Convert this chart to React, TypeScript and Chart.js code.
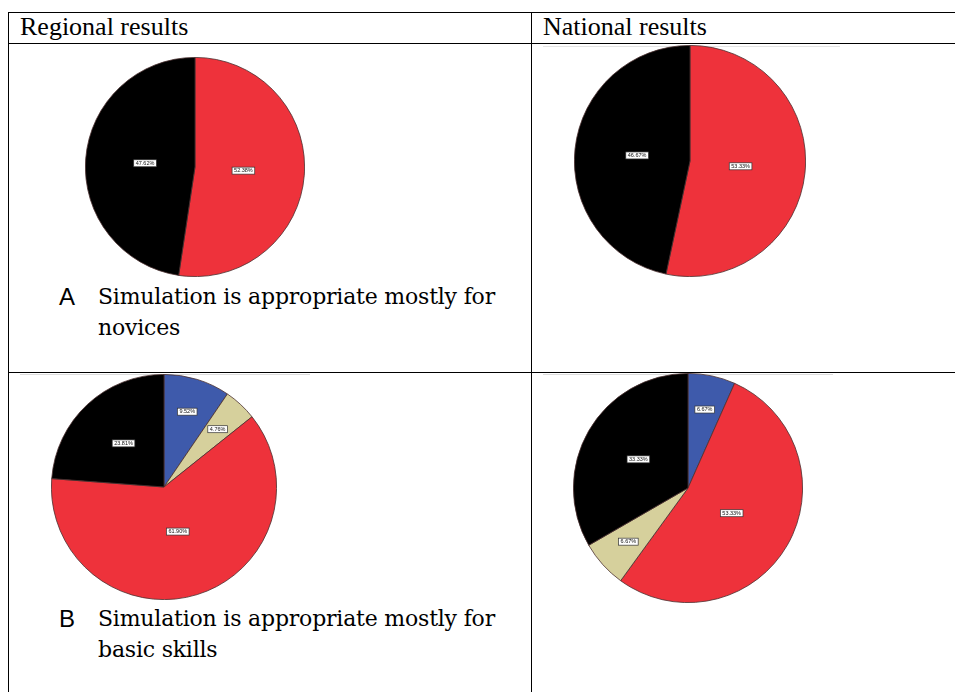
import React, { useEffect, useRef } from "react";
import { Chart, registerables } from "chart.js";

Chart.register(...registerables);

// Survey answers, percentages per answer (clockwise from 12 o'clock)
const regionalNovicesValues = [52.38, 47.62];
const nationalNovicesValues = [53.33, 46.67];
const regionalBasicValues = [9.52, 4.76, 61.9, 23.81];
const nationalBasicValues = [6.67, 53.33, 6.67, 33.33];

const RED = "#ee323b";
const BLACK = "#000000";
const BLUE = "#3e5aab";
const TAN = "#d6d09c";

const novicesColors = [RED, BLACK];
const regionalBasicColors = [BLUE, TAN, RED, BLACK];
const nationalBasicColors = [BLUE, RED, TAN, BLACK];

const headerLabels = ["Regional results", "National results"];
const captionLetters = ["A", "B"];
const captionLines = [
  ["Simulation is appropriate mostly for", "novices"],
  ["Simulation is appropriate mostly for", "basic skills"],
];

// Small boxed percentage labels drawn inside each slice
const sliceLabelPlugin = {
  id: "sliceLabels",
  afterDatasetsDraw(chart: any) {
    const ctx: CanvasRenderingContext2D = chart.ctx;
    const meta = chart.getDatasetMeta(0);
    const data: number[] = chart.data.datasets[0].data;
    const total = data.reduce((a, b) => a + b, 0);
    meta.data.forEach((arc: any, i: number) => {
      const { x, y, startAngle, endAngle, outerRadius } = arc.getProps(
        ["x", "y", "startAngle", "endAngle", "outerRadius"],
        true
      );
      const frac = data[i] / total;
      const mid = (startAngle + endAngle) / 2;
      const rr = (frac < 0.15 ? 0.7 : 0.6 - 0.3 * frac) * outerRadius;
      const lx = x + Math.cos(mid) * rr;
      const ly = y + Math.sin(mid) * rr;
      const text = data[i].toFixed(2) + "%";
      ctx.save();
      ctx.font = "5.5px 'Liberation Sans', Arial, sans-serif";
      const w = ctx.measureText(text).width + 4;
      const h = 7;
      ctx.fillStyle = "#ffffff";
      ctx.fillRect(lx - w / 2, ly - h / 2, w, h);
      ctx.strokeStyle = "#333333";
      ctx.lineWidth = 0.7;
      ctx.strokeRect(lx - w / 2, ly - h / 2, w, h);
      ctx.fillStyle = "#111111";
      ctx.textAlign = "center";
      ctx.textBaseline = "middle";
      ctx.fillText(text, lx, ly + 0.3);
      ctx.restore();
    });
  },
};

type PieProps = {
  values: number[];
  colors: string[];
  cx: number;
  cy: number;
  r: number;
};

function Pie({ values, colors, cx, cy, r }: PieProps) {
  const ref = useRef<HTMLCanvasElement | null>(null);
  const size = 2 * r + 2;
  useEffect(() => {
    if (!ref.current) return;
    const chart = new Chart(ref.current, {
      type: "pie",
      data: {
        labels: values.map((v) => v.toFixed(2) + "%"),
        datasets: [
          {
            data: values,
            backgroundColor: colors,
            borderColor: "#4a3030",
            borderWidth: 0.8,
          },
        ],
      },
      options: {
        animation: false,
        responsive: false,
        devicePixelRatio: 1,
        layout: { padding: 0 },
        plugins: {
          legend: { display: false },
          tooltip: { enabled: false },
        },
      },
      plugins: [sliceLabelPlugin],
    });
    return () => chart.destroy();
  }, [values, colors]);
  return (
    <canvas
      ref={ref}
      width={size}
      height={size}
      style={{
        position: "absolute",
        left: cx - size / 2,
        top: cy - size / 2,
        width: size,
        height: size,
      }}
    />
  );
}

function HLine({ x1, x2, y, color = "#000", t = 1 }: any) {
  return (
    <div
      style={{
        position: "absolute",
        left: x1,
        top: y,
        width: x2 - x1,
        height: t,
        background: color,
      }}
    />
  );
}

function VLine({ x, y1, y2, color = "#000", t = 1 }: any) {
  return (
    <div
      style={{
        position: "absolute",
        left: x,
        top: y1,
        width: t,
        height: y2 - y1,
        background: color,
      }}
    />
  );
}

const serifHead = "'Liberation Serif', 'Times New Roman', serif";
const serifBody = "'DejaVu Serif', Cambria, serif";
const sans = "'Liberation Sans', Arial, sans-serif";

function Caption({ idx, top }: { idx: number; top: number }) {
  return (
    <>
      <div
        style={{
          position: "absolute",
          left: 59,
          top,
          fontFamily: sans,
          fontSize: 24,
          lineHeight: "31px",
          color: "#000",
        }}
      >
        {captionLetters[idx]}
      </div>
      <div
        style={{
          position: "absolute",
          left: 98,
          top,
          fontFamily: serifBody,
          fontSize: 22,
          letterSpacing: "-0.2px",
          lineHeight: "31px",
          color: "#000",
          whiteSpace: "nowrap",
        }}
      >
        <div>{captionLines[idx][0]}</div>
        <div>{captionLines[idx][1]}</div>
      </div>
    </>
  );
}

const headStyle: React.CSSProperties = {
  position: "absolute",
  top: 13,
  fontFamily: serifHead,
  fontSize: 26,
  lineHeight: "28px",
  whiteSpace: "nowrap",
};

export default function App() {
  return (
    <div
      style={{
        position: "absolute",
        left: 0,
        top: 0,
        width: 955,
        height: 692,
        overflow: "hidden",
        background: "#fff",
      }}
    >
      {/* table grid */}
      <HLine x1={8} x2={955} y={12} />
      <HLine x1={8} x2={955} y={43} />
      <HLine x1={8} x2={955} y={372} />
      <VLine x={8} y1={12} y2={692} />
      <VLine x={531} y1={12} y2={692} />

      {/* faint frames at the top of the exported chart images */}
      <HLine x1={543} x2={840} y={46} color="#e4e4e4" />
      <HLine x1={20} x2={310} y={374} color="#dcdcdc" />
      <HLine x1={543} x2={833} y={374} color="#dcdcdc" />

      <div style={{ ...headStyle, left: 20 }}>{headerLabels[0]}</div>
      <div style={{ ...headStyle, left: 543 }}>{headerLabels[1]}</div>

      <Pie values={regionalNovicesValues} colors={novicesColors} cx={195} cy={167} r={109} />
      <Pie values={nationalNovicesValues} colors={novicesColors} cx={690} cy={161} r={115} />
      <Pie values={regionalBasicValues} colors={regionalBasicColors} cx={164} cy={487} r={112} />
      <Pie values={nationalBasicValues} colors={nationalBasicColors} cx={688} cy={488} r={114} />

      <Caption idx={0} top={281} />
      <Caption idx={1} top={603} />
    </div>
  );
}
